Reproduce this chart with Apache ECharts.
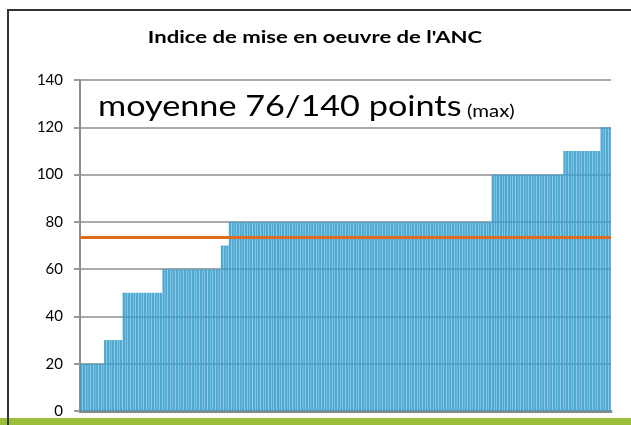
<!DOCTYPE html>
<html>
<head>
<meta charset="utf-8">
<script src="https://cdn.jsdelivr.net/npm/echarts@6/dist/echarts.min.js"></script>
<style>
    html,body{margin:0;padding:0;background:#fff;}
    #chart{width:631px;height:425px;}
</style>
</head>
<body>
<div id="chart"></div>
<script>
    // scores triés (~200 communes)
    var scores = [
        20,20,20,20,20,20,20,20,20,
        30,30,30,30,30,30,30,
        50,50,50,50,50,50,50,50,50,50,50,50,50,50,50,
        60,60,60,60,60,60,60,60,60,60,60,60,60,60,60,60,60,60,60,60,60,60,
        70,70,70,
        80,80,80,80,80,80,80,80,80,80,80,80,80,80,80,80,80,80,80,80,
        80,80,80,80,80,80,80,80,80,80,80,80,80,80,80,80,80,80,80,80,
        80,80,80,80,80,80,80,80,80,80,80,80,80,80,80,80,80,80,80,80,
        80,80,80,80,80,80,80,80,80,80,80,80,80,80,80,80,80,80,80,80,
        80,80,80,80,80,80,80,80,80,80,80,80,80,80,80,80,80,80,80,
        100,100,100,100,100,100,100,100,100,100,100,100,100,100,
        100,100,100,100,100,100,100,100,100,100,100,100,100,
        110,110,110,110,110,110,110,110,110,110,110,110,110,110,
        120,120,120,120
    ];
    var ticks = [0,20,40,60,80,100,120,140];
    var avgLine = 73.5;
    var titleText = "Indice de mise en oeuvre de l'ANC";
    var noteText = 'moyenne 76/140 points';
    var noteSmall = '(max)';

    var categories = [];
    for(var i=0;i<scores.length;i++){ categories.push(String(i+1)); }

    var chart = echarts.init(document.getElementById('chart'));
    chart.setOption({
        animation:false,
        grid:{left:80,right:20,top:80,bottom:14},
        xAxis:{
            type:'category',
            data:categories,
            axisLine:{lineStyle:{color:'#888',width:3}},
            axisTick:{show:false},
            axisLabel:{show:false},
            splitLine:{show:false}
        },
        yAxis:{
            type:'value',
            min:ticks[0],
            max:ticks[ticks.length-1],
            interval:20,
            axisLine:{show:true,lineStyle:{color:'#8c8c8c',width:2}},
            axisTick:{show:true,length:6,lineStyle:{color:'#999',width:2}},
            axisLabel:{color:'#000',fontFamily:'Lato',fontSize:15,margin:17},
            splitLine:{lineStyle:{color:'#aaa',width:2}}
        },
        series:[{
            type:'bar',
            data:scores,
            barCategoryGap:'10%',
            itemStyle:{color:'#3aa0cd',opacity:0.9},
            markLine:{
                silent:true,
                symbol:['none','none'],
                label:{show:false},
                lineStyle:{color:'#de6b22',width:3,type:'solid'},
                data:[{yAxis:avgLine}]
            }
        }],
        graphic:[
            {type:'rect',shape:{x:8,y:10,width:640,height:430},style:{fill:'none',stroke:'#333',lineWidth:2},z:-1},
            {type:'rect',shape:{x:0,y:418,width:631,height:7},style:{fill:'#9bbf3b'},z:10},
            {type:'line',shape:{x1:8,y1:10,x2:8,y2:425},style:{stroke:'#333',lineWidth:2},z:11},
            {type:'text',x:315,y:38,scaleX:1.3,style:{
                text:titleText,align:'center',verticalAlign:'middle',
                font:'bold 17px Lato',fill:'#000'
            },z:12},
            {type:'text',x:98,y:107,scaleX:1.18,style:{
                text:noteText,align:'left',verticalAlign:'middle',
                font:'29px Lato',fill:'#000'
            },z:12},
            {type:'text',x:467,y:112,scaleX:1.2,style:{
                text:noteSmall,align:'left',verticalAlign:'middle',
                font:'17px Lato',fill:'#000'
            },z:12}
        ]
    });
</script>
</body>
</html>
